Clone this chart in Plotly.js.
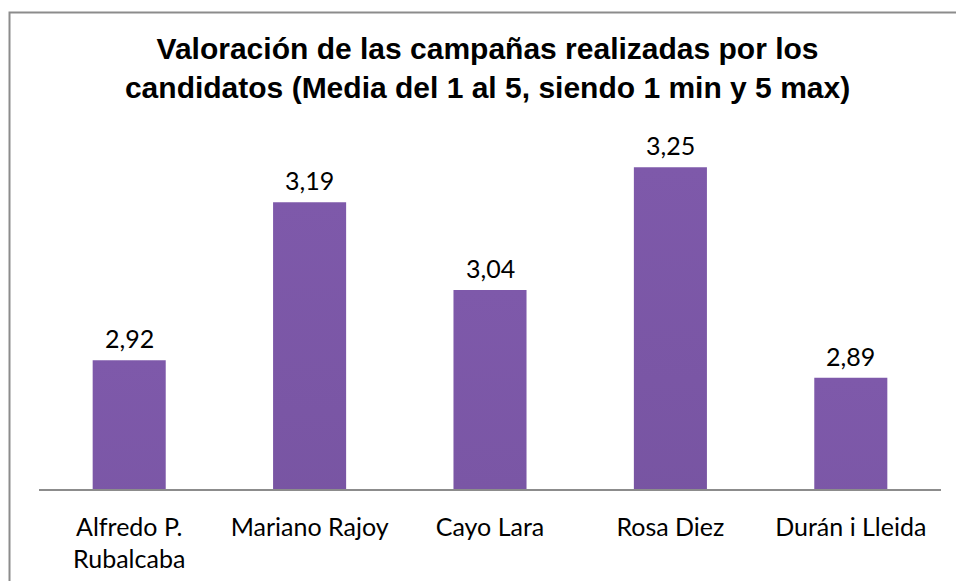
<!DOCTYPE html>
<html>
<head>
<meta charset="utf-8">
<script src="https://cdn.plot.ly/plotly-3.0.1.min.js"></script>
<style>
  html, body { margin: 0; padding: 0; background: #fff; }
  #plot { width: 956px; height: 581px; }
</style>
</head>
<body>
<div id="plot"></div>
<script>
// candidates and their average rating (1 to 5)
var candidatos = ['Alfredo P.<br>Rubalcaba', 'Mariano Rajoy', 'Cayo Lara', 'Rosa Diez', 'Durán i Lleida'];
var medias = [2.92, 3.19, 3.04, 3.25, 2.89];

var labelFont = { family: 'Lato, "Open Sans", sans-serif', size: 25, color: '#000' };

var trace = {
  type: 'bar',
  x: candidatos,
  y: medias,
  marker: { color: '#6c4c94' },
  hoverinfo: 'none'
};

// value labels above each bar, with comma decimals
var labels = [];
for (var i = 0; i < medias.length; i++) {
  labels.push({
    x: candidatos[i],
    y: medias[i],
    text: medias[i].toFixed(2).replace('.', ','),
    showarrow: false,
    yanchor: 'bottom',
    yshift: 5,
    font: labelFont
  });
}

var layout = {
  width: 956,
  height: 581,
  paper_bgcolor: '#fff',
  plot_bgcolor: '#fff',
  showlegend: false,
  bargap: 0.595,
  margin: { t: 138, l: 39, r: 15, b: 92 },
  title: {
    text: 'Valoración de las campañas realizadas por los<br>candidatos (Media del 1 al 5, siendo 1 min y 5 max)',
    font: { family: '"Liberation Sans", Arial, sans-serif', size: 30, color: '#000', weight: 'bold' },
    x: 0.51,
    xanchor: 'center',
    y: 0.898,
    yanchor: 'top'
  },
  xaxis: {
    showline: true,
    linecolor: '#8c8c8c',
    linewidth: 1.5,
    ticks: '',
    ticklabelstandoff: 15,
    tickfont: labelFont,
    fixedrange: true
  },
  yaxis: {
    range: [2.7, 3.3],
    visible: false,
    showgrid: false,
    zeroline: false,
    fixedrange: true
  },
  annotations: labels,
  shapes: [{
    type: 'rect',
    xref: 'paper', yref: 'paper',
    x0: -0.0327, x1: 1.1, y0: -0.4, y1: 1.3575,
    line: { color: '#8c8c8c', width: 2 },
    fillcolor: 'rgba(0,0,0,0)',
    layer: 'below'
  }]
};

Plotly.newPlot('plot', [trace], layout, { displayModeBar: false, staticPlot: true }).then(function (gd) {
  // vertical gradient on the bars, light violet on top to dark at the base
  var svg = gd.querySelector('.main-svg');
  var defs = svg.querySelector('defs');
  var ns = 'http://www.w3.org/2000/svg';
  var grad = document.createElementNS(ns, 'linearGradient');
  grad.setAttribute('id', 'barGrad');
  grad.setAttribute('x1', '0%'); grad.setAttribute('y1', '0%');
  grad.setAttribute('x2', '0%'); grad.setAttribute('y2', '100%');
  [['0%', '#7e59aa'], ['100%', '#5a3f7d']].forEach(function (s) {
    var stop = document.createElementNS(ns, 'stop');
    stop.setAttribute('offset', s[0]);
    stop.setAttribute('stop-color', s[1]);
    grad.appendChild(stop);
  });
  defs.appendChild(grad);
  var url = 'url("' + window.location.href.split('#')[0] + '#barGrad")';
  gd.querySelectorAll('.barlayer .point path').forEach(function (p) {
    p.style.fill = url;
    p.style.fillOpacity = 1;
  });
});
</script>
</body>
</html>
